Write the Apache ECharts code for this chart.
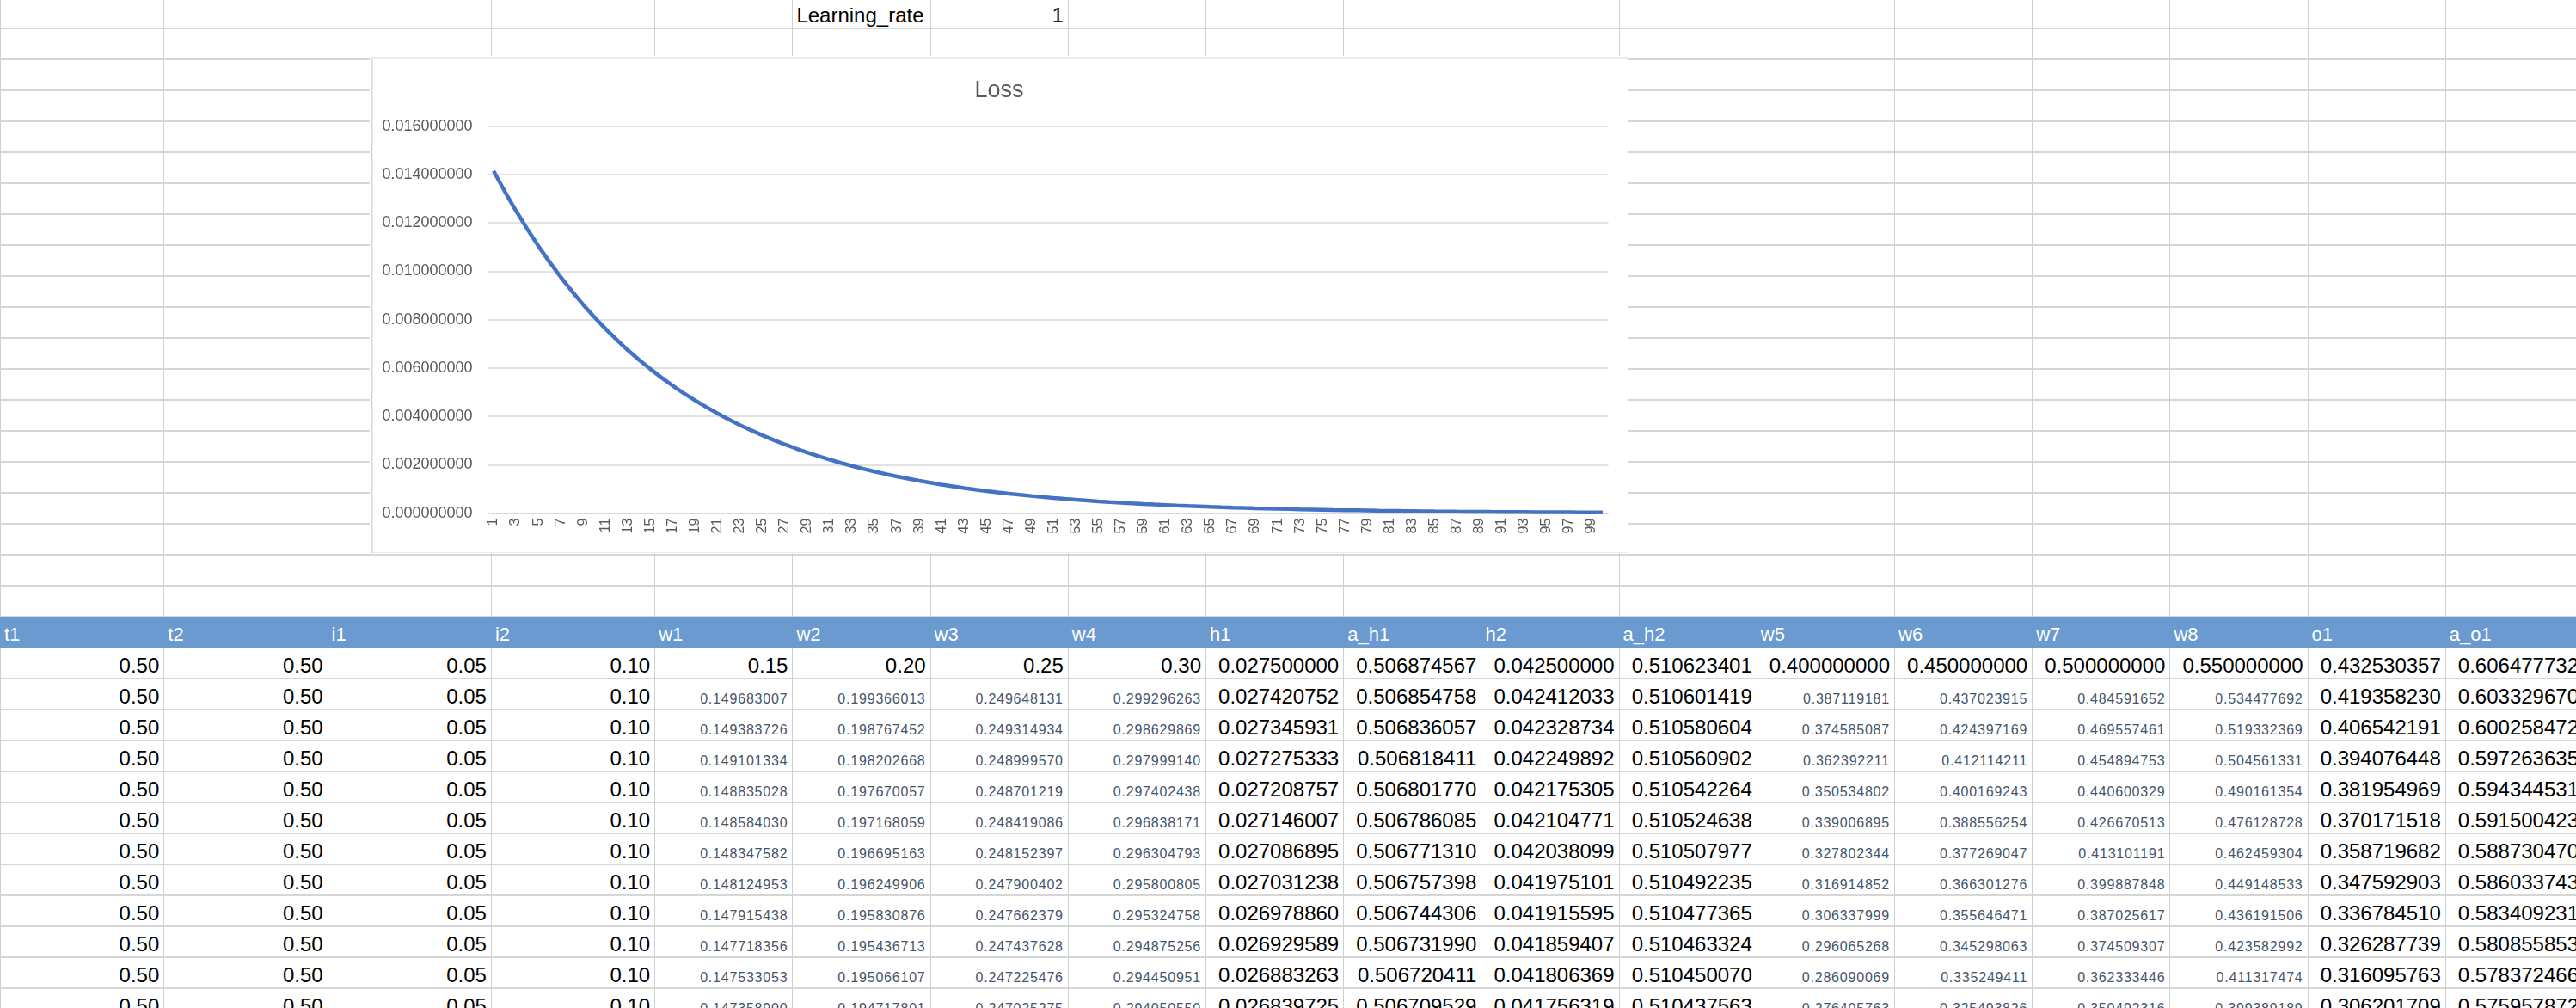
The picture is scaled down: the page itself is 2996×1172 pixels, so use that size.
<!DOCTYPE html>
<html><head><meta charset="utf-8">
<script src="https://cdn.jsdelivr.net/npm/echarts@6/dist/echarts.min.js"></script>
<style>
html,body{margin:0;padding:0;background:#fff;width:2996px;height:1172px;overflow:hidden;font-family:"Liberation Sans",Arial,sans-serif;}
#sheet{position:absolute;left:0;top:0;width:2996px;height:1172px;overflow:hidden;}
.hl{position:absolute;left:0;width:2996px;height:2px;background:#d6d6d6;}
.vl{position:absolute;width:1px;background:#d0d0d0;}
.cell{position:absolute;box-sizing:border-box;display:flex;align-items:flex-end;white-space:nowrap;line-height:1;}
.big{font-size:24px;color:#000;justify-content:flex-end;padding-right:5px;padding-bottom:3px;}
.small{font-size:16px;letter-spacing:0.8px;color:#44546A;justify-content:flex-end;padding-right:5px;padding-bottom:4px;}
.head{font-size:22px;color:#fff;justify-content:flex-start;padding-left:5px;padding-bottom:4px;}
#band{position:absolute;left:0;top:716.7px;width:2996px;height:36px;background:#6A9AD0;}
#chart{position:absolute;left:430px;top:65px;width:1464px;height:578px;background:#fff;z-index:5;}
</style>
</head>
<body>
<div id="sheet"></div>
<div id="chart"></div>
<script>
// ---------- chart data ----------
const iterations = ["1","2","3","4","5","6","7","8","9","10","11","12","13","14","15","16","17","18","19","20",
"21","22","23","24","25","26","27","28","29","30","31","32","33","34","35","36","37","38","39","40",
"41","42","43","44","45","46","47","48","49","50","51","52","53","54","55","56","57","58","59","60",
"61","62","63","64","65","66","67","68","69","70","71","72","73","74","75","76","77","78","79","80",
"81","82","83","84","85","86","87","88","89","90","91","92","93","94","95","96","97","98","99","100"];
const lossValues = [0.014146,0.013300,0.012500,0.011750,0.011040,0.010380,0.009755,0.009170,0.008620,0.008100,
0.007615,0.007160,0.006730,0.006330,0.005955,0.005600,0.005265,0.004950,0.004655,0.004380,
0.004120,0.003870,0.003640,0.003420,0.003215,0.003020,0.002840,0.002670,0.002505,0.002355,
0.002210,0.002075,0.001950,0.001830,0.001720,0.001615,0.001515,0.001425,0.001335,0.001255,
0.001178,0.001105,0.001038,0.000974,0.000914,0.000858,0.000805,0.000756,0.000710,0.000666,
0.000625,0.000587,0.000551,0.000518,0.000486,0.000457,0.000429,0.000403,0.000378,0.000355,
0.000334,0.000313,0.000294,0.000277,0.000260,0.000244,0.000229,0.000215,0.000202,0.000190,
0.000178,0.000168,0.000157,0.000148,0.000139,0.000130,0.000122,0.000115,0.000108,0.000101,
0.000095,0.000089,0.000084,0.000079,0.000074,0.000070,0.000065,0.000061,0.000058,0.000054,
0.000051,0.000048,0.000045,0.000042,0.000040,0.000037,0.000035,0.000033,0.000031,0.000029];
const chartTitle = "Loss";

// ---------- sheet text ----------
const lrLabel = "Learning_rate";
const lrValue = "1";
const headers = ["t1","t2","i1","i2","w1","w2","w3","w4","h1","a_h1","h2","a_h2","w5","w6","w7","w8","o1","a_o1"];
const t1Vals = ["0.50","0.50","0.50","0.50","0.50","0.50","0.50","0.50","0.50","0.50","0.50","0.50"];
const t2Vals = ["0.50","0.50","0.50","0.50","0.50","0.50","0.50","0.50","0.50","0.50","0.50","0.50"];
const i1Vals = ["0.05","0.05","0.05","0.05","0.05","0.05","0.05","0.05","0.05","0.05","0.05","0.05"];
const i2Vals = ["0.10","0.10","0.10","0.10","0.10","0.10","0.10","0.10","0.10","0.10","0.10","0.10"];
const w1Vals = ["0.15","0.149683007","0.149383726","0.149101334","0.148835028","0.148584030","0.148347582","0.148124953","0.147915438","0.147718356","0.147533053","0.147358900"];
const w2Vals = ["0.20","0.199366013","0.198767452","0.198202668","0.197670057","0.197168059","0.196695163","0.196249906","0.195830876","0.195436713","0.195066107","0.194717801"];
const w3Vals = ["0.25","0.249648131","0.249314934","0.248999570","0.248701219","0.248419086","0.248152397","0.247900402","0.247662379","0.247437628","0.247225476","0.247025275"];
const w4Vals = ["0.30","0.299296263","0.298629869","0.297999140","0.297402438","0.296838171","0.296304793","0.295800805","0.295324758","0.294875256","0.294450951","0.294050550"];
const h1Vals = ["0.027500000","0.027420752","0.027345931","0.027275333","0.027208757","0.027146007","0.027086895","0.027031238","0.026978860","0.026929589","0.026883263","0.026839725"];
const ah1Vals = ["0.506874567","0.506854758","0.506836057","0.506818411","0.506801770","0.506786085","0.506771310","0.506757398","0.506744306","0.506731990","0.506720411","0.506709529"];
const h2Vals = ["0.042500000","0.042412033","0.042328734","0.042249892","0.042175305","0.042104771","0.042038099","0.041975101","0.041915595","0.041859407","0.041806369","0.041756319"];
const ah2Vals = ["0.510623401","0.510601419","0.510580604","0.510560902","0.510542264","0.510524638","0.510507977","0.510492235","0.510477365","0.510463324","0.510450070","0.510437563"];
const w5Vals = ["0.400000000","0.387119181","0.374585087","0.362392211","0.350534802","0.339006895","0.327802344","0.316914852","0.306337999","0.296065268","0.286090069","0.276405763"];
const w6Vals = ["0.450000000","0.437023915","0.424397169","0.412114211","0.400169243","0.388556254","0.377269047","0.366301276","0.355646471","0.345298063","0.335249411","0.325493826"];
const w7Vals = ["0.500000000","0.484591652","0.469557461","0.454894753","0.440600329","0.426670513","0.413101191","0.399887848","0.387025617","0.374509307","0.362333446","0.350492316"];
const w8Vals = ["0.550000000","0.534477692","0.519332369","0.504561331","0.490161354","0.476128728","0.462459304","0.449148533","0.436191506","0.423582992","0.411317474","0.399389189"];
const o1Vals = ["0.432530357","0.419358230","0.406542191","0.394076448","0.381954969","0.370171518","0.358719682","0.347592903","0.336784510","0.326287739","0.316095763","0.306201709"];
const ao1Vals = ["0.606477732","0.603329670","0.600258472","0.597263635","0.594344531","0.591500423","0.588730470","0.586033743","0.583409231","0.580855853","0.578372466","0.575957872"];

// ---------- build sheet ----------
const sheet = document.getElementById('sheet');
const colX = [0,190.3,380.6,570.9,761.2];
for (let k = 1; k <= 14; k++) colX.push(761.2 + 160.2 * k);
const rowH = 36, row0 = 32.7;
function add(cls, x, y, w, h, txt){
  const d = document.createElement('div');
  d.className = cls;
  d.style.left = x + 'px'; d.style.top = y + 'px';
  if (w != null) d.style.width = w + 'px';
  if (h != null) d.style.height = h + 'px';
  if (txt != null) d.textContent = txt;
  sheet.appendChild(d);
  return d;
}
// grid lines
for (let y = row0 - rowH; y < 1200; y += rowH) add('hl', 0, y - 1, null, null);
for (let i = 0; i < colX.length; i++) add('vl', colX[i], 0, null, 1172);
// header band
const band = document.createElement('div'); band.id = 'band'; sheet.appendChild(band);
// learning rate row
const lr = add('cell big', colX[5], row0 - rowH, colX[6]-colX[5], rowH, lrLabel);
lr.style.justifyContent = 'flex-start'; lr.style.paddingLeft = '5px'; lr.style.paddingRight = '0';
add('cell big', colX[6], row0 - rowH, colX[7]-colX[6], rowH, lrValue);
// headers
const headerTop = 716.7;
headers.forEach((h, i) => add('cell head', colX[i], headerTop, colX[i+1]-colX[i], rowH, h));
// data
const cols = [t1Vals,t2Vals,i1Vals,i2Vals,w1Vals,w2Vals,w3Vals,w4Vals,h1Vals,ah1Vals,h2Vals,ah2Vals,w5Vals,w6Vals,w7Vals,w8Vals,o1Vals,ao1Vals];
const smallCols = [4,5,6,7,12,13,14,15];
cols.forEach((vals, c) => {
  vals.forEach((v, r) => {
    const isSmall = r > 0 && smallCols.indexOf(c) >= 0;
    add('cell ' + (isSmall ? 'small' : 'big'), colX[c], headerTop + rowH * (r + 1), colX[c+1]-colX[c], rowH, v);
  });
});

// ---------- chart ----------
const chart = echarts.init(document.getElementById('chart'), null, {renderer:'canvas'});
const font = 'Liberation Sans';
chart.setOption({
  animation: false,
  backgroundColor: '#fff',
  title: {text: chartTitle, left: 'center', top: 22,
    textStyle: {fontFamily: font, fontSize: 27, fontWeight: 'normal', color: '#595959'}},
  grid: {left: 137.5, right: 23.5, top: 81.6, bottom: 46.4},
  xAxis: {type: 'category', data: iterations, boundaryGap: true,
    axisLine: {show: true, lineStyle: {color: '#d9d9d9', width: 1.5}},
    axisTick: {show: false},
    axisLabel: {interval: 1, rotate: 90, margin: 6, fontSize: 16, color: '#595959', fontFamily: font}},
  yAxis: {type: 'value', min: 0, max: 0.016, interval: 0.002,
    axisLine: {show: false}, axisTick: {show: false},
    splitLine: {lineStyle: {color: '#d9d9d9', width: 1.5}},
    axisLabel: {formatter: v => v.toFixed(9), fontSize: 18, color: '#595959', margin: 18, fontFamily: font}},
  graphic: [{type: 'rect', left: 0, top: 0, silent: true,
    shape: {x: 1, y: 1, width: 1462, height: 576},
    style: {fill: null, stroke: '#d9d9d9', lineWidth: 2}}],
  series: [{type: 'line', data: lossValues, symbol: 'none', showSymbol: false,
    lineStyle: {color: '#4472C4', width: 4.5}, itemStyle: {color: '#4472C4'}}]
});
</script>
</body></html>
